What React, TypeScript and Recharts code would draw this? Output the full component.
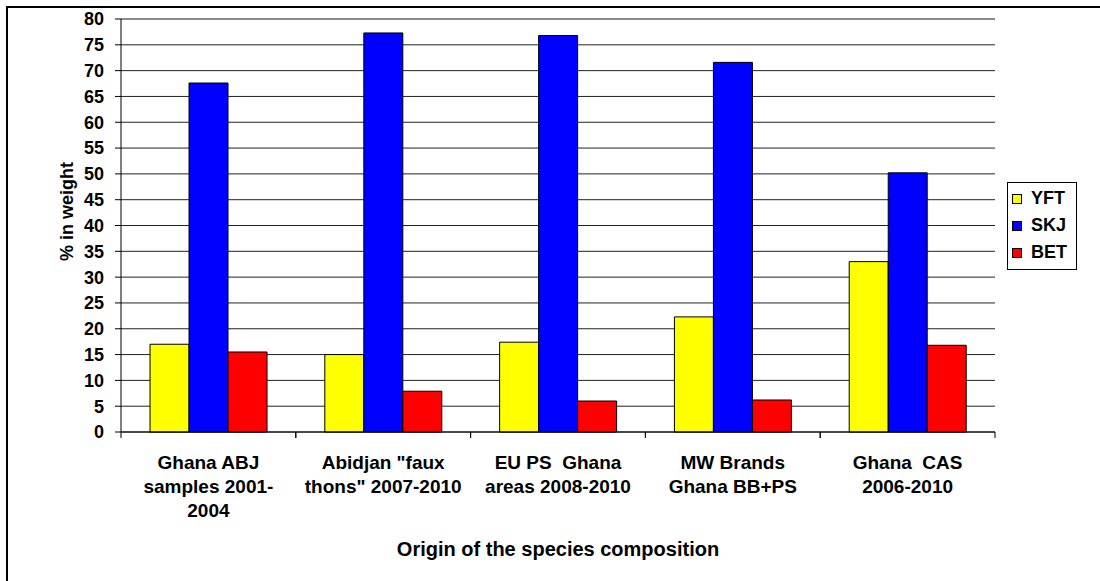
import React from "react";
import {
  BarChart,
  Bar,
  XAxis,
  YAxis,
  CartesianGrid,
  Legend,
  ReferenceLine,
} from "recharts";

const categories = [
  "Ghana ABJ samples 2001-2004",
  'Abidjan "faux thons" 2007-2010',
  "EU PS  Ghana areas 2008-2010",
  "MW Brands Ghana BB+PS",
  "Ghana  CAS 2006-2010",
];

const categoryLabelLines = [
  ["Ghana ABJ", "samples 2001-", "2004"],
  ['Abidjan "faux', 'thons" 2007-2010'],
  ["EU PS  Ghana", "areas 2008-2010"],
  ["MW Brands", "Ghana BB+PS"],
  ["Ghana  CAS", "2006-2010"],
];

const yftValues = [17.0, 15.0, 17.4, 22.3, 33.0];
const skjValues = [67.6, 77.3, 76.8, 71.6, 50.2];
const betValues = [15.5, 7.9, 6.0, 6.2, 16.8];

const yTicks = [0, 5, 10, 15, 20, 25, 30, 35, 40, 45, 50, 55, 60, 65, 70, 75, 80];

const seriesNames = ["YFT", "SKJ", "BET"];
const seriesColors = ["#FFFF00", "#0000FF", "#FF0000"];

const yAxisTitle = "% in weight";
const xAxisTitle = "Origin of the species composition";

const data = categories.map((c, i) => ({
  name: c,
  YFT: yftValues[i],
  SKJ: skjValues[i],
  BET: betValues[i],
}));

const FONT = '"Liberation Sans", Arial, Helvetica, sans-serif';

function CategoryTick(props: any) {
  const { x, y, payload, width } = props;
  const idx = categories.indexOf(payload.value);
  const lines = idx >= 0 ? categoryLabelLines[idx] : [String(payload.value)];
  const half =
    payload && typeof payload.offset === "number" && payload.offset > 0
      ? payload.offset
      : width / categories.length / 2;
  const axisY = y - 6;
  return (
    <g>
      <line x1={x - half} x2={x - half} y1={axisY} y2={axisY + 6} stroke="#000" strokeWidth={1} />
      <line x1={x + half} x2={x + half} y1={axisY} y2={axisY + 6} stroke="#000" strokeWidth={1} />
      {lines.map((t: string, i: number) => (
        <text
          key={i}
          x={x}
          y={axisY + 37 + i * 24}
          textAnchor="middle"
          fontFamily={FONT}
          fontWeight="bold"
          fontSize={19}
          fill="#000"
          style={{ whiteSpace: "pre" }}
        >
          {t}
        </text>
      ))}
    </g>
  );
}

function renderLegend(props: any) {
  const payload = [...(props.payload || [])].sort(
    (a: any, b: any) => seriesNames.indexOf(a.value) - seriesNames.indexOf(b.value)
  );
  return (
    <div
      style={{
        border: "1px solid #000",
        background: "#fff",
        width: 68,
        padding: "2px 0 3px 0",
        fontFamily: FONT,
        fontWeight: "bold",
        fontSize: 18,
        color: "#000",
        boxSizing: "content-box",
      }}
    >
      {payload.map((entry: any, i: number) => (
        <div
          key={i}
          style={{ display: "flex", alignItems: "center", height: 27, paddingLeft: 4 }}
        >
          <span
            style={{
              display: "inline-block",
              width: 8,
              height: 8,
              border: "1px solid #000",
              background: entry.color,
              marginRight: 9,
            }}
          />
          <span style={{ lineHeight: "27px", fontWeight: "bold" }}>{entry.value}</span>
        </div>
      ))}
    </div>
  );
}

export default function App() {
  return (
    <div
      style={{
        position: "fixed",
        left: 0,
        top: 0,
        width: 1100,
        height: 581,
        overflow: "hidden",
        background: "#fff",
      }}
    >
      <div
        style={{
          position: "absolute",
          left: 6,
          top: 6,
          width: 1300,
          height: 800,
          border: "2px solid #000",
        }}
      />
      <div style={{ position: "absolute", left: 0, top: 0 }}>
        <BarChart
          width={1100}
          height={581}
          data={data}
          margin={{ top: 19, right: 105, bottom: 9, left: 61 }}
          barCategoryGap="16.6%"
          barGap={0}
        >
          <CartesianGrid vertical={false} stroke="#222" strokeWidth={1} />
          <XAxis
            dataKey="name"
            interval={0}
            height={140}
            tickSize={6}
            tickMargin={0}
            tickLine={false}
            axisLine={{ stroke: "#000", strokeWidth: 1 }}
            tick={<CategoryTick />}
            label={(p: any) => {
              const vb = p.viewBox || {};
              return (
                <text
                  x={vb.x + vb.width / 2}
                  y={vb.y + 124}
                  textAnchor="middle"
                  fontFamily={FONT}
                  fontWeight="bold"
                  fontSize={20}
                  fill="#000"
                >
                  {xAxisTitle}
                </text>
              );
            }}
          />
          <YAxis
            domain={[0, 80]}
            ticks={yTicks}
            interval={0}
            width={60}
            tickSize={6}
            tickMargin={11}
            axisLine={{ stroke: "#000", strokeWidth: 1 }}
            tickLine={{ stroke: "#000", strokeWidth: 1 }}
            tick={{ fontFamily: FONT, fontWeight: "bold", fontSize: 18, fill: "#000" }}
            label={(p: any) => {
              const vb = p.viewBox || {};
              const cx = vb.x + 6;
              const cy = vb.y + vb.height / 2 - 14;
              return (
                <text
                  x={cx}
                  y={cy}
                  transform={`rotate(-90, ${cx}, ${cy})`}
                  textAnchor="middle"
                  dominantBaseline="central"
                  fontFamily={FONT}
                  fontWeight="bold"
                  fontSize={18}
                  fill="#000"
                >
                  {yAxisTitle}
                </text>
              );
            }}
          />
          <YAxis
            yAxisId="r"
            orientation="right"
            width={0}
            domain={[0, 80]}
            tick={false}
            tickLine={false}
            axisLine={{ stroke: "#888", strokeWidth: 1.5 }}
          />
          <ReferenceLine y={80} stroke="#888" strokeWidth={1.5} />
          <Legend
            layout="horizontal"
            verticalAlign="middle"
            align="center"
            content={renderLegend}
            wrapperStyle={{ position: "absolute", left: 1007, top: 182, width: 70, height: "auto" }}
          />
          {seriesNames.map((s, i) => (
            <Bar
              key={s}
              dataKey={s}
              name={s}
              fill={seriesColors[i]}
              stroke="#000"
              strokeWidth={1}
              isAnimationActive={false}
            />
          ))}
        </BarChart>
      </div>
    </div>
  );
}
